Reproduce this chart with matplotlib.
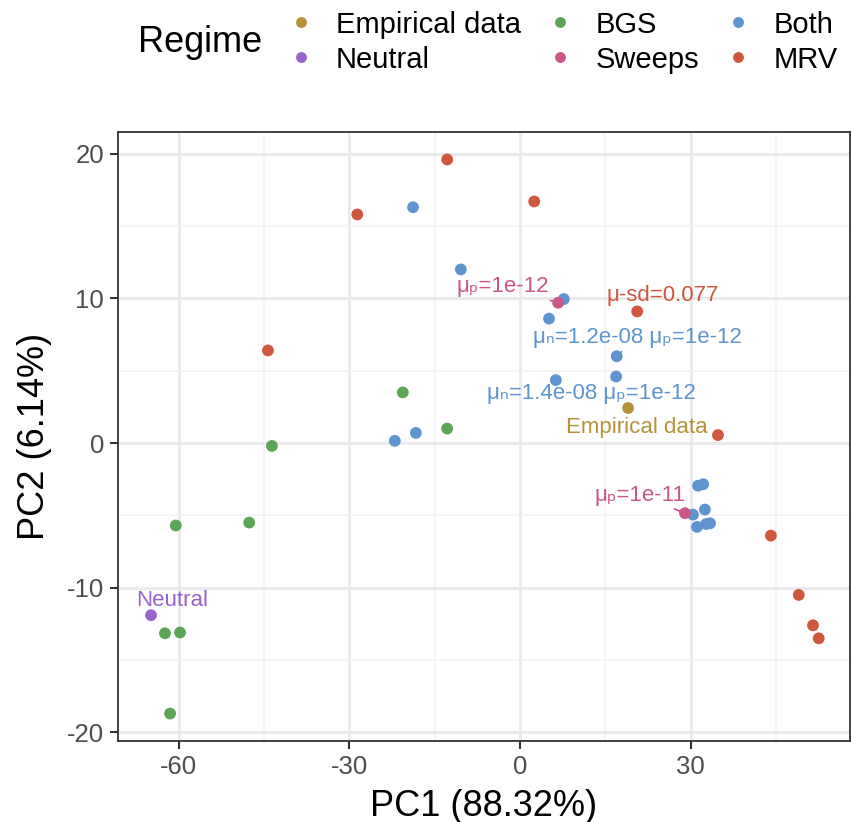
import matplotlib
matplotlib.use("Agg")
from matplotlib import pyplot as plt
from matplotlib.lines import Line2D

plt.rcParams["font.family"] = ["Liberation Sans", "DejaVu Sans"]
plt.rcParams["axes.unicode_minus"] = False

# Цвета режимов
regimes = ["Empirical data", "Neutral", "BGS", "Sweeps", "Both", "MRV"]
colors = {"Empirical data": "#b5923a", "Neutral": "#9864cb", "BGS": "#5da556",
          "Sweeps": "#cc5688", "Both": "#5e94d0", "MRV": "#d0573e"}

# Координаты точек по режимам
emp_x = [19.0]
emp_y = [2.42]
neu_x = [-64.85]
neu_y = [-11.9]
bgs_x = [-62.4, -59.75, -61.5, -60.5, -47.6, -43.6, -20.6, -12.8]
bgs_y = [-13.15, -13.1, -18.7, -5.7, -5.5, -0.2, 3.5, 1.0]
swp_x = [6.7, 29.0]
swp_y = [9.7, -4.85]
both_x = [-18.8, -10.4, 7.7, 5.1, 17.0, 16.9, 6.3, -22.0, -18.3,
          31.3, 32.2, 32.5, 30.4, 31.1, 32.7, 33.4]
both_y = [16.3, 12.0, 9.95, 8.6, 6.0, 4.6, 4.35, 0.15, 0.7,
          -2.95, -2.85, -4.6, -4.95, -5.8, -5.6, -5.55]
mrv_x = [-12.8, -28.6, 2.5, -44.3, 20.6, 34.8, 44.1, 49.0, 51.5, 52.5]
mrv_y = [19.6, 15.8, 16.7, 6.4, 9.1, 0.55, -6.4, -10.5, -12.6, -13.5]

series = {"Empirical data": (emp_x, emp_y), "Neutral": (neu_x, neu_y),
          "BGS": (bgs_x, bgs_y), "Sweeps": (swp_x, swp_y),
          "Both": (both_x, both_y), "MRV": (mrv_x, mrv_y)}

# Подписи: текст, режим, точка, положение текста
labels = [
    ("μₚ=1e-12", "Sweeps", (6.7, 9.7), (-3.0, 10.8)),
    ("μ-sd=0.077", "MRV", (20.6, 9.1), (25.1, 10.2)),
    ("μₙ=1.2e-08 μₚ=1e-12", "Both", (17.0, 6.0), (20.6, 7.3)),
    ("μₙ=1.4e-08 μₚ=1e-12", "Both", (16.9, 4.6), (12.5, 3.4)),
    ("Empirical data", "Empirical data", (19.0, 2.42), (20.6, 1.1)),
    ("μₚ=1e-11", "Sweeps", (29.0, -4.85), (21.1, -3.6)),
    ("Neutral", "Neutral", (-64.85, -11.9), (-61.2, -10.9)),
]

fig = plt.figure(figsize=(8.51, 8.22), dpi=100)
ax = fig.add_axes([0.1387, 0.0985, 0.8601, 0.7409])

for r in ["BGS", "Both", "MRV", "Sweeps", "Empirical data", "Neutral"]:
    xs, ys = series[r]
    ax.scatter(xs, ys, s=72, color=colors[r], edgecolors="none", zorder=3)

for text, r, pt, pos in labels:
    ax.annotate(text, xy=pt, xytext=pos, ha="center", va="center",
                fontsize=16, color=colors[r], zorder=4,
                arrowprops=dict(arrowstyle="-", color=colors[r], lw=1.2,
                                shrinkA=1, shrinkB=3))

ax.set_xlim(-70.65, 58.0)
ax.set_ylim(-20.6, 21.5)
ax.set_xticks([-60, -30, 0, 30])
ax.set_yticks([-20, -10, 0, 10, 20])
ax.set_xticks([-45, -15, 15, 45], minor=True)
ax.set_yticks([-15, -5, 5, 15], minor=True)
ax.grid(which="major", color="#ebebeb", lw=2.2, zorder=0)
ax.grid(which="minor", color="#f2f2f2", lw=1.1, zorder=0)
ax.set_axisbelow(True)
ax.tick_params(which="major", length=6, width=1.5, color="#333333",
               labelsize=18.5, labelcolor="#4d4d4d", pad=4)
ax.tick_params(which="minor", length=0)
for s in ax.spines.values():
    s.set_color("#333333")
    s.set_linewidth(1.3)
ax.set_xlabel("PC1 (88.32%)", fontsize=26, labelpad=7)
ax.set_ylabel("PC2 (6.14%)", fontsize=26, labelpad=11)

handles = [Line2D([], [], marker="o", ls="none", ms=7.8, color=colors[r],
                  markeredgewidth=0) for r in regimes]
fig.legend(handles, regimes, ncol=3, loc="upper left",
           bbox_to_anchor=(0.340, 0.987), frameon=False, fontsize=21,
           handlelength=0.8, handletextpad=0.8, columnspacing=0.95,
           labelspacing=0.24, borderpad=0, borderaxespad=0)
fig.text(0.162, 0.948, "Regime", fontsize=26, va="center", ha="left")

fig.savefig("out.png", dpi=100)
